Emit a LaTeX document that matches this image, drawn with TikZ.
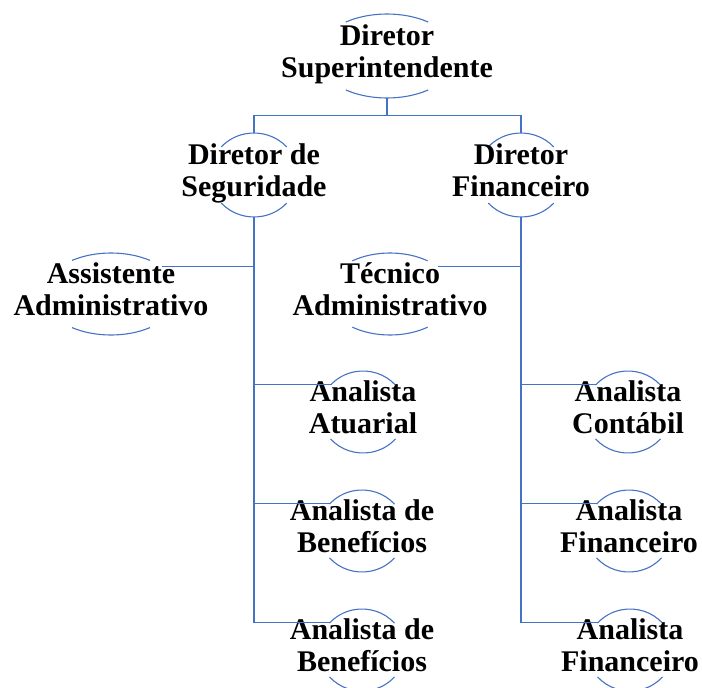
\documentclass[tikz,border=0pt]{standalone}
\usepackage{fontspec}
\setmainfont{Liberation Serif}
\usetikzlibrary{shapes.geometric,calc}
\definecolor{orgblue}{HTML}{4472C4}

\newcommand\rims[4]{%
  \draw[rim] ($(#1)+(#4:#2 and #3)$) arc[start angle=#4, end angle={180-#4}, x radius=#2, y radius=#3];
  \draw[rim] ($(#1)+({180+#4}:#2 and #3)$) arc[start angle={180+#4}, end angle={360-#4}, x radius=#2, y radius=#3];}

\begin{document}
\begin{tikzpicture}[x=1pt, y=1pt,
  post/.style 2 args={ellipse, inner sep=0pt, minimum width={2*#1}, minimum height={2*#2}},
  txt/.style={font=\fontsize{30}{31.5}\selectfont\bfseries, align=center, inner sep=0pt,
    execute at begin node=\strut, execute at end node=\strut},
  link/.style={draw=orgblue, line width=1.4pt},
  rim/.style={draw=orgblue, line width=1.1pt}]
  \useasboundingbox (0,0) rectangle (702,-688);

  \node[post={70}{42}] (sup) at (387,-56) {};
  \node[post={44}{42}] (seg) at (254,-175) {};
  \node[post={44}{42}] (fin) at (521,-175) {};
  \node[post={68}{41}] (ass) at (111,-294) {};
  \node[post={64}{41}] (tec) at (390,-294) {};
  \node[post={43}{41}] (atu) at (363,-412) {};
  \node[post={43}{41}] (ben) at (362,-531) {};
  \node[post={43}{41}] (ben2) at (362,-650) {};
  \node[post={43}{41}] (con) at (628,-412) {};
  \node[post={43}{41}] (afi) at (629,-531) {};
  \node[post={43}{41}] (afi2) at (630,-650) {};

  \rims{sup}{70}{42}{54}
  \rims{seg}{44}{42}{42}
  \rims{fin}{44}{42}{42}
  \rims{ass}{68}{41}{55}
  \rims{tec}{64}{41}{54}
  \rims{atu}{43}{41}{41}
  \rims{ben}{43}{41}{41}
  \rims{ben2}{43}{41}{41}
  \rims{con}{43}{41}{41}
  \rims{afi}{43}{41}{41}
  \rims{afi2}{43}{41}{41}

  \node[txt] (sup-t) at (sup) {Diretor\\Superintendente};
  \node[txt] (seg-t) at (seg) {Diretor de\\Seguridade};
  \node[txt] (fin-t) at (fin) {Diretor\\Financeiro};
  \node[txt] (ass-t) at (ass) {Assistente\\Administrativo};
  \node[txt] (tec-t) at (tec) {Técnico\\Administrativo};
  \node[txt] (atu-t) at (atu) {Analista\\Atuarial};
  \node[txt] (ben-t) at (ben) {Analista de\\Benefícios};
  \node[txt] (ben2-t) at (ben2) {Analista de\\Benefícios};
  \node[txt] (con-t) at (con) {Analista\\Contábil};
  \node[txt] (afi-t) at (afi) {Analista\\Financeiro};
  \node[txt] (afi2-t) at (afi2) {Analista\\Financeiro};

  \draw[link] (sup.south) -- ++(0,-17) coordinate (bar);
  \draw[link] (seg.north) |- (bar) -| (fin.north);

  \draw[link] (seg.south) |- (ben2.140);
  \draw[link] (seg.south |- ben.140) -- (ben.140);
  \draw[link] (seg.south |- atu.140) -- (atu.140);
  \draw[link] (seg.south |- ass.28) -- (ass.28);

  \draw[link] (fin.south) |- (afi2.140);
  \draw[link] (fin.south |- afi.140) -- (afi.140);
  \draw[link] (fin.south |- con.140) -- (con.140);
  \draw[link] (fin.south |- tec.30) -- (tec.30);
\end{tikzpicture}
\end{document}
